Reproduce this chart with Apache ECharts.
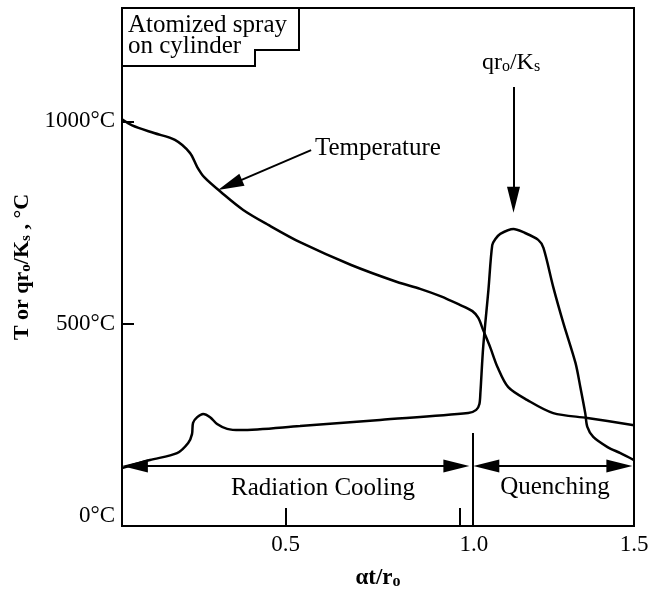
<!DOCTYPE html>
<html><head><meta charset="utf-8">
<script src="https://cdn.jsdelivr.net/npm/echarts@6/dist/echarts.min.js"></script>
<style>html,body{margin:0;padding:0;background:#fff}#c{width:662px;height:595px}</style>
</head><body><div id="c"></div>
<script>
// Temperature curve
const tempX = [0.03, 0.059, 0.122, 0.182, 0.225, 0.246, 0.266, 0.317, 0.378, 0.450, 0.544, 0.688, 0.820, 0.886, 0.944, 0.996, 1.036, 1.053, 1.067, 1.087, 1.108, 1.139, 1.194, 1.268, 1.366, 1.5];
const tempY = [1005, 990, 971, 954, 922, 887, 862, 823, 781, 744, 700, 645, 603, 586, 568, 548, 531, 514, 484, 442, 393, 343, 311, 279, 267, 249];
// Heat flux curve qr0/Ks
const qX = [0.03, 0.110, 0.188, 0.220, 0.231, 0.234, 0.246, 0.263, 0.283, 0.303, 0.332, 0.369, 0.541, 0.771, 1.024, 1.047, 1.056, 1.059, 1.067, 1.082, 1.093, 1.102, 1.116, 1.154, 1.182, 1.225, 1.240, 1.268, 1.297, 1.332, 1.346, 1.360, 1.366, 1.383, 1.424, 1.461, 1.5];
const qY = [143, 163, 180, 205, 227, 255, 269, 277, 269, 252, 240, 237, 247, 262, 279, 287, 301, 329, 442, 583, 694, 709, 722, 734, 726, 707, 687, 591, 502, 403, 343, 279, 245, 220, 195, 180, 163];
// Axes
const xLabels = [0.5, 1.0, 1.5];
const xTicks = [0.5, 1.0];
const yLabels = [0, 500, 1000];
const yTicks = [500, 1000];
// Annotations (data coordinates)
const dividerX = 1.036, dividerTop = 230;
const phaseArrowY = 148;
const radiationArrow = [0.067, 0.990];
const quenchArrow = [1.076, 1.458];
const tempArrow = [[0.573, 929], [0.340, 843]];
const qArrow = [[1.154, 1085], [1.154, 806]];

const FF = '"Liberation Serif", "Times New Roman", serif';
const temp = tempX.map((x, i) => [x, tempY[i]]);
const qr = qX.map((x, i) => [x, qY[i]]);

const tri = {symbol: 'triangle', symbolSize: [13, 26]};
const none = {symbol: 'none'};
function seg(a, b, sa, sb) {
  return [Object.assign({coord: a}, sa), Object.assign({coord: b}, sb)];
}

const chart = echarts.init(document.getElementById('c'), null, {renderer: 'canvas'});
chart.setOption({
  animation: false,
  backgroundColor: '#fff',
  grid: {left: 122, right: 28, top: 8, bottom: 69, show: true, borderColor: '#000', borderWidth: 2, containLabel: false, outerBoundsMode: 'none'},
  xAxis: {
    type: 'value', min: 0.03, max: 1.5,
    splitLine: {show: false},
    axisLine: {lineStyle: {color: '#000', width: 2}},
    axisTick: {inside: true, length: 18, lineStyle: {color: '#000', width: 2}, customValues: xTicks},
    axisLabel: {
      customValues: xLabels, margin: 7, color: '#000', fontFamily: FF, fontSize: 23,
      formatter: v => Math.abs(v - 1) < 1e-9 ? '{s|1.0}' : v.toFixed(1),
      rich: {s: {fontFamily: FF, fontSize: 23, color: '#000', padding: [0, 0, 0, 28]}}
    },
    name: 'αt/r{s|o}', nameLocation: 'middle', nameGap: 40,
    nameTextStyle: {color: '#000', fontFamily: FF, fontSize: 23, fontWeight: 'bold',
      rich: {s: {fontFamily: FF, fontSize: 16, fontWeight: 'bold', color: '#000', verticalAlign: 'bottom', padding: [8, 0, 0, 0]}}}
  },
  yAxis: {
    type: 'value', min: 0, max: 1280,
    splitLine: {show: false},
    axisLine: {lineStyle: {color: '#000', width: 2}},
    axisTick: {inside: true, length: 12, lineStyle: {color: '#000', width: 2}, customValues: yTicks},
    axisLabel: {
      customValues: yLabels, margin: 7, color: '#000', fontFamily: FF, fontSize: 23,
      formatter: v => v === 0 ? '{z|0°C}' : v + '°C',
      rich: {z: {fontFamily: FF, fontSize: 23, color: '#000', padding: [0, 0, 20, 0]}}
    },
    name: 'T or qr{s|o}/K{s|s} , °C', nameLocation: 'middle', nameGap: 88,
    nameTextStyle: {color: '#000', fontFamily: FF, fontSize: 22, fontWeight: 'bold',
      rich: {s: {fontFamily: FF, fontSize: 15, fontWeight: 'bold', color: '#000', verticalAlign: 'bottom', padding: [8, 0, 0, 0]}}}
  },
  series: [
    {
      type: 'line', data: temp, showSymbol: false, smooth: 0.3, silent: true,
      lineStyle: {color: '#000', width: 2.5},
      markLine: {
        silent: true, animation: false, label: {show: false},
        lineStyle: {color: '#000', width: 2, type: 'solid'},
        data: [
          seg([dividerX, 0], [dividerX, dividerTop], none, none),
          seg([radiationArrow[0], phaseArrowY], [radiationArrow[1], phaseArrowY], tri, tri),
          seg([quenchArrow[0], phaseArrowY], [quenchArrow[1], phaseArrowY], tri, tri),
          seg(tempArrow[0], tempArrow[1], none, tri),
          seg(qArrow[0], qArrow[1], none, tri)
        ]
      }
    },
    {
      type: 'line', data: qr, showSymbol: false, smooth: 0.3, silent: true,
      lineStyle: {color: '#000', width: 2.5}
    }
  ],
  graphic: [
    {type: 'polygon', shape: {points: [[122, 8], [299, 8], [299, 50], [255, 50], [255, 66], [122, 66]]},
     style: {fill: '#fff', stroke: '#000', lineWidth: 2}, z: 100},
    {type: 'text', x: 128, y: 25, z: 101, style: {text: 'Atomized spray', font: '25px ' + FF, fill: '#000', verticalAlign: 'middle'}},
    {type: 'text', x: 128, y: 46, z: 101, style: {text: 'on cylinder', font: '25px ' + FF, fill: '#000', verticalAlign: 'middle'}},
    {type: 'text', x: 315, y: 148, z: 101, style: {text: 'Temperature', font: '25px ' + FF, fill: '#000', verticalAlign: 'middle'}},
    {type: 'text', x: 511, y: 63, z: 101, style: {text: 'qr{s|o}/K{s|s}', font: '24px ' + FF, fill: '#000', align: 'center', verticalAlign: 'middle',
      rich: {s: {font: '16px ' + FF, fill: '#000', verticalAlign: 'bottom', padding: [8, 0, 0, 0]}}}},
    {type: 'text', x: 323, y: 488, z: 101, style: {text: 'Radiation Cooling', font: '25px ' + FF, fill: '#000', align: 'center', verticalAlign: 'middle'}},
    {type: 'text', x: 555, y: 487, z: 101, style: {text: 'Quenching', font: '25px ' + FF, fill: '#000', align: 'center', verticalAlign: 'middle'}}
  ]
});
</script></body></html>
